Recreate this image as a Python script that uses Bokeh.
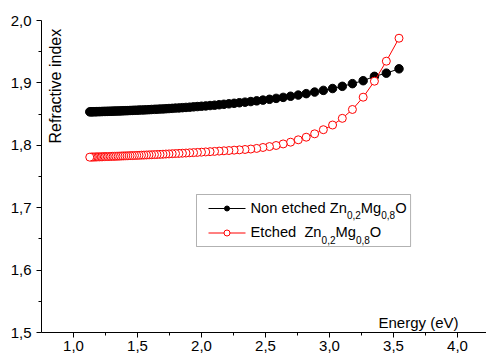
import math
from bokeh.plotting import figure
from bokeh.models import (Range1d, FixedTicker, CustomJSTickFormatter, Label,
                          BoxAnnotation, ColumnDataSource)
from bokeh.embed import file_html
from bokeh.resources import INLINE

# ---------------- data (photon energy in eV, ordered from high to low energy) -------------
energy = [3.543, 3.444, 3.351, 3.263, 3.179, 3.100, 3.024, 2.952, 2.884, 2.818,
          2.756, 2.696, 2.638, 2.583, 2.531, 2.480, 2.431, 2.385, 2.340, 2.296,
          2.255, 2.214, 2.175, 2.138, 2.102, 2.067, 2.033, 2.000, 1.968, 1.938,
          1.908, 1.879, 1.851, 1.824, 1.797, 1.771, 1.746, 1.722, 1.699, 1.676,
          1.653, 1.632, 1.610, 1.590, 1.570, 1.550, 1.531, 1.512, 1.494, 1.476,
          1.459, 1.442, 1.425, 1.409, 1.393, 1.378, 1.363, 1.348, 1.333, 1.319,
          1.305, 1.292, 1.278, 1.265, 1.253, 1.240, 1.228, 1.216, 1.204, 1.192,
          1.181, 1.170, 1.159, 1.148, 1.138, 1.127]

n_non_etched = [1.9226, 1.9156, 1.9105, 1.9035, 1.8988, 1.8945, 1.8910, 1.8880, 1.8853, 1.8828,
                1.8805, 1.8786, 1.8768, 1.8752, 1.8737, 1.8724, 1.8712, 1.8701, 1.8691, 1.8682,
                1.8673, 1.8665, 1.8657, 1.8650, 1.8643, 1.8637, 1.8631, 1.8626, 1.8621, 1.8616,
                1.8611, 1.8607, 1.8603, 1.8599, 1.8596, 1.8592, 1.8589, 1.8586, 1.8583, 1.8581,
                1.8578, 1.8576, 1.8574, 1.8571, 1.8569, 1.8567, 1.8566, 1.8564, 1.8562, 1.8561,
                1.8559, 1.8558, 1.8556, 1.8555, 1.8554, 1.8552, 1.8551, 1.8550, 1.8549, 1.8548,
                1.8547, 1.8546, 1.8545, 1.8544, 1.8543, 1.8543, 1.8542, 1.8541, 1.8540, 1.8540,
                1.8539, 1.8538, 1.8538, 1.8537, 1.8536, 1.8536]

n_etched = [1.9716, 1.9348, 1.9027, 1.8771, 1.8574, 1.8432, 1.8325, 1.8250, 1.8184, 1.8130,
            1.8088, 1.8050, 1.8022, 1.7997, 1.7980, 1.7965, 1.7950, 1.7940, 1.7933, 1.7927,
            1.7922, 1.7916, 1.7912, 1.7907, 1.7902, 1.7898, 1.7894, 1.7890, 1.7886, 1.7883,
            1.7880, 1.7876, 1.7873, 1.7870, 1.7868, 1.7865, 1.7862, 1.7860, 1.7857, 1.7855,
            1.7853, 1.7851, 1.7849, 1.7847, 1.7845, 1.7843, 1.7842, 1.7840, 1.7838, 1.7837,
            1.7835, 1.7834, 1.7832, 1.7831, 1.7830, 1.7829, 1.7827, 1.7826, 1.7825, 1.7824,
            1.7823, 1.7822, 1.7821, 1.7820, 1.7819, 1.7818, 1.7817, 1.7816, 1.7815, 1.7815,
            1.7814, 1.7813, 1.7812, 1.7812, 1.7811, 1.7810]

x_ticks = [1.0, 1.5, 2.0, 2.5, 3.0, 3.5, 4.0]
x_minor_ticks = [1.25, 1.75, 2.25, 2.75, 3.25, 3.75]
y_ticks = [1.5, 1.6, 1.7, 1.8, 1.9, 2.0]
y_minor_ticks = [1.55, 1.65, 1.75, 1.85, 1.95]

x_title = "Energy (eV)"
y_title = "Refractive index"
legend_rows = [
    [("Non etched Zn", False), ("0,2", True), ("Mg", False), ("0,8", True), ("O", False)],
    [("Etched\u00a0 Zn", False), ("0,2", True), ("Mg", False), ("0,8", True), ("O", False)],
]

# ---------------- layout ----------------
W, H = 486, 358
L, T, B = 41, 20, 26
X0, X1 = 0.75, 0.75 + (W - L) / 128.0
Y0, Y1 = 1.5, 2.0
FONT = "Liberation Sans"
BASE_FIX = 6  # renderer places the alphabetic baseline this many px lower


def dx(px):
    return X0 + (px - L) * (X1 - X0) / (W - L)


def dy(py):
    return Y0 + (H - B - py) * (Y1 - Y0) / (H - B - T)


p = figure(width=W, height=H, x_range=Range1d(X0, X1), y_range=Range1d(Y0, Y1),
           output_backend="svg", toolbar_location=None,
           min_border_left=L, min_border_right=0, min_border_top=T, min_border_bottom=B)
p.xgrid.visible = False
p.ygrid.visible = False
p.outline_line_color = None
p.background_fill_color = "white"
p.border_fill_color = "white"

fmt = CustomJSTickFormatter(code="return tick.toFixed(1).replace('.', ',');")
p.xaxis.ticker = FixedTicker(ticks=x_ticks, minor_ticks=x_minor_ticks)
p.yaxis.ticker = FixedTicker(ticks=y_ticks, minor_ticks=y_minor_ticks)
for ax in (p.xaxis, p.yaxis):
    ax.formatter = fmt
    ax.axis_line_color = "black"
    ax.axis_line_width = 1
    ax.major_tick_line_color = "black"
    ax.minor_tick_line_color = "black"
    ax.major_tick_in = 0
    ax.major_tick_out = 5
    ax.minor_tick_in = 0
    ax.minor_tick_out = 3
    ax.major_label_text_font = FONT
    ax.major_label_text_font_size = "15px"
    ax.major_label_text_color = "black"
p.xaxis.major_label_standoff = 3
p.yaxis.major_label_standoff = 5

src = ColumnDataSource(dict(e=energy, n1=n_non_etched, n2=n_etched))

p.line("e", "n1", source=src, line_color="black", line_width=1)
p.scatter("e", "n1", source=src, marker="circle", size=8.5, fill_color="black", line_color="black")
p.line("e", "n2", source=src, line_color="red", line_width=1)
p.scatter("e", "n2", source=src, marker="circle", size=8, fill_color="white",
          line_color="red", line_width=1)

# axis titles (inside the frame, as in the original)
p.add_layout(Label(x=dx(61 - BASE_FIX), y=dy(143), text=y_title, angle=math.pi / 2,
                   text_font=FONT, text_font_size="16px", text_color="black",
                   text_align="left", text_baseline="alphabetic"))
p.add_layout(Label(x=dx(378), y=dy(327.5 - BASE_FIX), text=x_title,
                   text_font=FONT, text_font_size="15px", text_color="black",
                   text_align="left", text_baseline="alphabetic"))

# ---------------- legend ----------------
AW = {'N': 722, 'o': 556, 'n': 556, ' ': 278, '\u00a0': 278, 'e': 556, 't': 278, 'c': 500,
      'h': 556, 'd': 556, 'Z': 611, 'M': 833, 'g': 556, 'O': 778, 'E': 667, '0': 556,
      ',': 278, '2': 556, '8': 556}


def tw(s, size):
    return sum(AW.get(c, 556) for c in s) * size / 1000.0


MAIN_FS, SUB_FS = 14.7, 10
text_x0 = 250
row_y = [208, 232.5]
row_base = [213.3, 237.7]
labels = []
max_x = 0
for segs, base in zip(legend_rows, row_base):
    x = text_x0
    for txt, sub in segs:
        fs = SUB_FS if sub else MAIN_FS
        yb = base + (7.5 if sub else 0) - BASE_FIX
        labels.append(Label(x=dx(x), y=dy(yb), text=txt, text_font=FONT,
                            text_font_size=f"{fs}px", text_color="black",
                            text_align="left", text_baseline="alphabetic"))
        x += tw(txt, fs)
    max_x = max(max_x, x)

box = BoxAnnotation(left=dx(196), right=dx(max_x + 4), top=dy(194), bottom=dy(246),
                    fill_color="white", fill_alpha=1.0, line_color="black", line_width=1,
                    level="underlay")
p.add_layout(box)

p.line([dx(208), dx(245)], [dy(row_y[0])] * 2, line_color="black", line_width=1)
p.scatter([dx(226.5)], [dy(row_y[0])], marker="circle", size=5,
          fill_color="black", line_color="black")
p.line([dx(208), dx(245)], [dy(row_y[1])] * 2, line_color="red", line_width=1)
p.scatter([dx(226.5)], [dy(row_y[1])], marker="circle", size=6,
          fill_color="white", line_color="red")

for lab in labels:
    p.add_layout(lab)

open("out.html", "w").write(file_html(p, INLINE))
